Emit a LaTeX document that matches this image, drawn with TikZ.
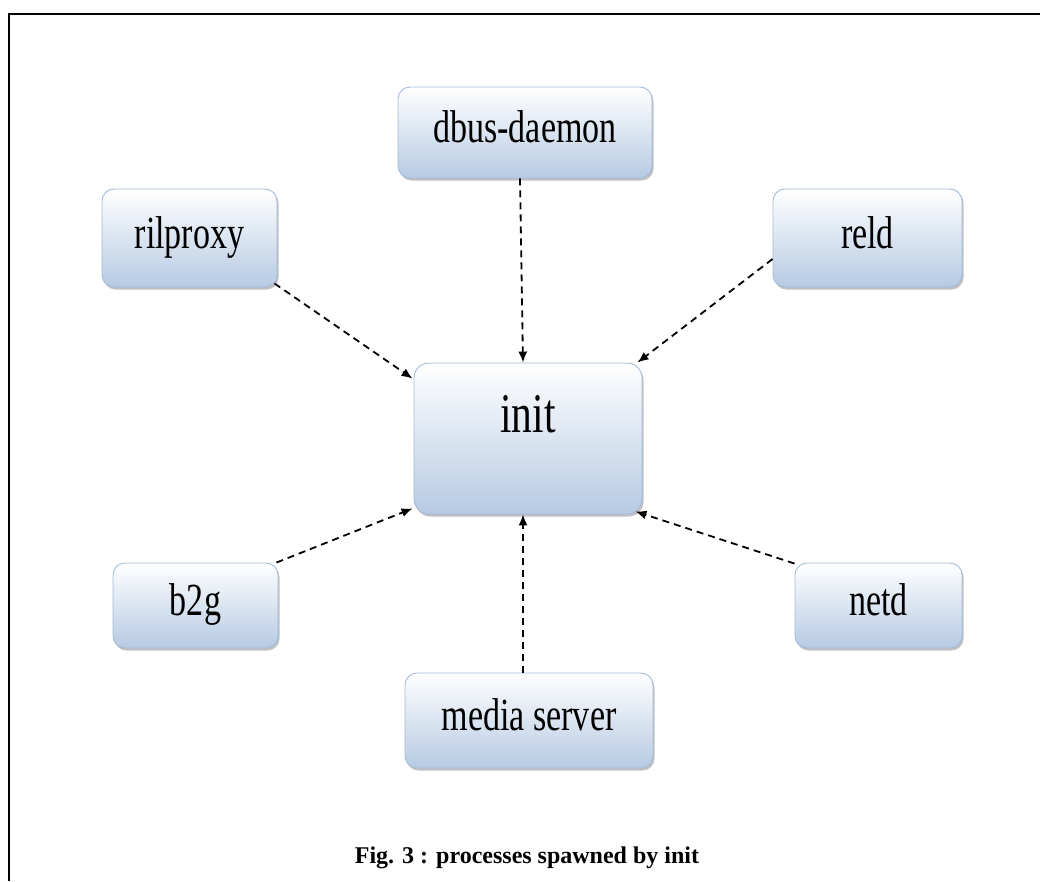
\documentclass[tikz,border=0pt]{standalone}
\usepackage{fontspec}
\setmainfont{Liberation Serif}
\usepackage{graphicx}
\usetikzlibrary{arrows.meta,shadows,calc}

\definecolor{boxedge}{HTML}{A3BCDA}
\definecolor{boxbottom}{HTML}{B6CAE3}
\newcommand\narrowtext[1]{\scalebox{0.74}[1]{#1}}

\tikzset{
  procbox/.style={draw=boxedge, line width=0.9pt, rounded corners=12pt,
    top color=white, bottom color=boxbottom, inner sep=0pt,
    font=\fontsize{46}{50}\selectfont, text height=32pt, text depth=12pt,
    drop shadow={shadow xshift=1.5pt, shadow yshift=-2.5pt, fill=black!55, opacity=0.45}},
  spawn/.style={dashed, dash pattern=on 7pt off 5pt, line width=1.8pt,
    -{Latex[length=11pt,width=9pt]}}
}

\begin{document}
\begin{tikzpicture}[x=1pt,y=-1pt]
\useasboundingbox (0,0) rectangle (1040,881);

% page frame (top and left edges)
\draw[line width=2.6pt] (9,881) -- (9,14) -- (1040,14);

% processes
\node[procbox, minimum width=228pt, minimum height=151pt, rounded corners=15pt,
      font=\fontsize{56}{60}\selectfont, text height=38pt, text depth=51pt]
      (init) at (528,438.5) {\narrowtext{init}};
\node[procbox, minimum width=254pt, minimum height=91pt] (dbus) at (525,132.5) {\narrowtext{dbus-daemon}};
\node[procbox, minimum width=175pt, minimum height=98pt] (rilproxy) at (189.5,238) {\narrowtext{rilproxy}};
\node[procbox, minimum width=189pt, minimum height=98pt] (reld) at (867.5,238) {\narrowtext{reld}};
\node[procbox, minimum width=165pt, minimum height=85pt] (b2g) at (195.5,605.5) {\narrowtext{b2g}};
\node[procbox, minimum width=167pt, minimum height=85pt] (netd) at (878.5,605.5) {\narrowtext{netd}};
\node[procbox, minimum width=248pt, minimum height=95pt] (media) at (529,720.5) {\narrowtext{media server}};

% spawn connectors into init
\draw[spawn] ($(dbus.south)+(-5,0)$) -- ($(init.north)+(-5,0)$);
\draw[spawn] ($(rilproxy.south east)+(-3,-4)$) -- ($(init.north west)+(-1,16)$);
\draw[spawn] ($(reld.west)+(0,21)$) -- ($(init.north east)+(-5,0)$);
\draw[spawn] ($(b2g.north east)+(-2,0)$) -- ($(init.south west)+(-1,-6)$);
\draw[spawn] ($(netd.north west)+(0,1)$) -- ($(init.south east)+(-7,-3)$);
\draw[spawn] ($(media.north)+(-6,0)$) -- ($(init.south)+(-5,0)$);

% caption
\node[anchor=base, font=\bfseries\fontsize{24}{28}\selectfont] (caption) at (527,863)
  {Fig. 3 : processes spawned by init};
\end{tikzpicture}
\end{document}
